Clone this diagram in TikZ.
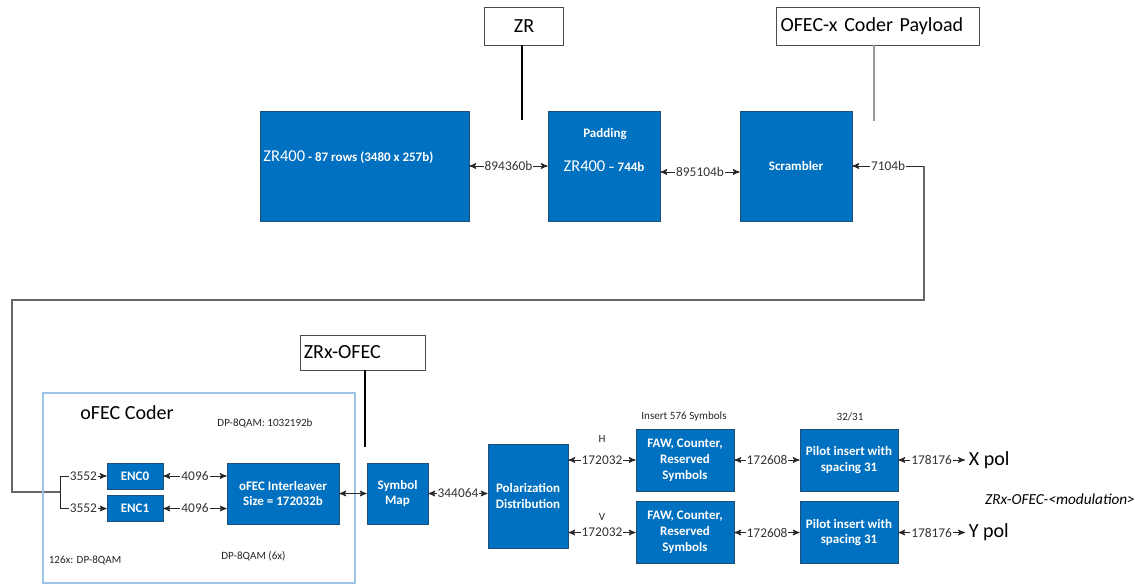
\documentclass[tikz,border=0pt]{standalone}
\usepackage{fontspec}
\setmainfont{Carlito}
\usepackage{tikz}
\usetikzlibrary{arrows}
\usetikzlibrary{positioning}
\definecolor{blockfill}{HTML}{0070C0}
\definecolor{blockedge}{HTML}{1F4E79}
\definecolor{framec}{HTML}{9DC3E6}
\newcommand{\zrboxfont}{\fontsize{7.4}{9}\selectfont\bfseries}
\newcommand{\zrtagfont}{\fontsize{11.4}{13}\selectfont}
\newcommand{\zrnumfont}{\fontsize{7.6}{9}\selectfont}
\newcommand{\zrnotefont}{\fontsize{6.3}{7.5}\selectfont}
\newcommand{\zrbig}{\fontsize{9.4}{11}\selectfont\mdseries}
\newcommand{\zrmodfont}{\fontsize{8.7}{10}\selectfont\itshape}

\begin{document}
\begin{tikzpicture}[
    x=0.02cm, y=-0.02cm,
    block/.style={draw=blockedge, fill=blockfill, text=white, font=\zrboxfont, align=center, inner sep=1pt},
    tag/.style={draw=black!70, fill=white, font=\zrtagfont, minimum height=0.76cm, inner sep=2pt},
    num/.style={fill=white, font=\zrnumfont, text=black!80, inner sep=0.6pt},
    note/.style={font=\zrnotefont, text=black!85},
    arrow/.style={>=stealth', line width=0.5pt, black!85},
    bidir/.style={arrow, <->},
    pre/.style={arrow, <-},
    post/.style={arrow, ->},
    wire/.style={line width=0.6pt, black!60}
  ]
  \useasboundingbox (0,0) rectangle (1148,585);

  \node[tag, minimum width=1.58cm] (zrtag) at (524,26) {ZR};
  \node[tag, minimum width=4.06cm, text width=3.9cm, align=left] (payloadtag) at (878,26) {OFEC-x Coder Payload};
  \coordinate (zrend) at (522,120);
  \coordinate (payloadend) at (874,121);
  \draw[line width=0.6pt] (zrtag.south -| zrend) -- (zrend);
  \draw[line width=0.8pt, black!40] (payloadtag.south -| payloadend) -- (payloadend);

  \node[block, minimum width=4.18cm, minimum height=2.2cm] (zrrows) at (364.5,166) {};
  \node[anchor=west, text=white, font=\zrboxfont, inner sep=0] (zrrowstxt) at (263,157) {{\zrbig ZR400} - 87 rows (3480 x 257b)};
  \node[block, minimum width=2.24cm, minimum height=2.2cm] (pad) at (604,166) {{\zrbig ZR400} -- 744b};
  \node[text=white, font=\zrboxfont] (padtxt) at (605,134) {Padding};
  \node[block, minimum width=2.24cm, minimum height=2.2cm] (scr) at (796,166) {Scrambler};
  \draw[bidir] (zrrows.east) -- node[num]{894360b} (pad.west);
  \draw[bidir] ([yshift=-0.12cm]pad.east) -- node[num]{895104b} ([yshift=-0.12cm]scr.west);

  \coordinate (fbtop) at (924,166);
  \coordinate (fbleft) at (12,300);
  \coordinate (split) at (60,492);
  \draw[pre] (scr.east) -- node[num]{7104b} (fbtop);
  \draw[wire] (fbtop) |- (fbleft) |- (split);

  \node[draw=framec, line width=0.8pt, minimum width=6.24cm, minimum height=3.8cm] (coder) at (199,488) {};
  \node[font=\zrtagfont] (codertitle) at (127,413) {oFEC Coder};
  \node[note] (coderbits) at (265,423) {DP-8QAM: 1032192b};
  \node[note] (codercount) at (85,560) {126x: DP-8QAM};
  \node[note] (coderintl) at (253.5,556) {DP-8QAM (6x)};

  \node[block, minimum width=1.12cm, minimum height=0.52cm] (enc0) at (135,476) {ENC0};
  \node[block, minimum width=1.12cm, minimum height=0.52cm] (enc1) at (135,508.5) {ENC1};
  \draw[post] (split) |- node[num, pos=0.75]{3552} (enc0.west);
  \draw[post] (split) |- node[num, pos=0.75]{3552} (enc1.west);
  \node[block, minimum width=2.24cm, minimum height=1.22cm] (intl) at (283,493.5) {oFEC Interleaver\\Size = 172032b};
  \draw[bidir] (enc0.east) -- node[num]{4096} (enc0.east -| intl.west);
  \draw[bidir] (enc1.east) -- node[num]{4096} (enc1.east -| intl.west);

  \node[tag, minimum width=2.5cm, minimum height=0.7cm, text width=2.35cm, align=left] (ofectag) at (362.5,352.5) {ZRx-OFEC};
  \coordinate (ofecend) at (365,447);
  \draw[line width=0.6pt] (ofectag.south -| ofecend) -- (ofecend);

  \node[block, minimum width=1.22cm, minimum height=1.22cm] (symmap) at (397.5,493.5) {Symbol\\Map};
  \node[block, minimum width=1.6cm, minimum height=2.08cm] (poldist) at (528,496) {Polarization\\Distribution};
  \draw[bidir] (intl.east) -- (symmap.west);
  \draw[bidir] (symmap.east) -- node[num]{344064} (symmap.east -| poldist.west);

  \node[block, minimum width=1.96cm, minimum height=1.24cm] (fawh) at (685,460) {FAW, Counter,\\Reserved\\Symbols};
  \node[block, minimum width=1.96cm, minimum height=1.24cm] (fawv) at (685,532.5) {FAW, Counter,\\Reserved\\Symbols};
  \node[block, minimum width=1.96cm, minimum height=1.24cm] (pilh) at (849,460) {Pilot insert with\\spacing 31};
  \node[block, minimum width=1.96cm, minimum height=1.24cm] (pilv) at (849,532.5) {Pilot insert with\\spacing 31};
  \node[note] (fawnote) at (684,417) {Insert 576 Symbols};
  \node[note] (pilnote) at (850,417) {32/31};
  \node[note] (hlbl) at (602,439) {H};
  \node[note] (vlbl) at (602,517) {V};
  \draw[bidir] (fawh.west -| poldist.east) -- node[num]{172032} (fawh.west);
  \draw[bidir] (fawv.west -| poldist.east) -- node[num]{172032} (fawv.west);
  \draw[bidir] (fawh.east) -- node[num]{172608} (pilh.west);
  \draw[bidir] (fawv.east) -- node[num]{172608} (pilv.west);

  \node[font=\zrtagfont, anchor=west, inner sep=2pt] (xpol) at (965,460) {X pol};
  \node[font=\zrtagfont, anchor=west, inner sep=2pt] (ypol) at (965,532.5) {Y pol};
  \draw[bidir] (pilh.east) -- node[num]{178176} (xpol.west);
  \draw[bidir] (pilv.east) -- node[num]{178176} (ypol.west);
  \node[font=\zrmodfont] (modname) at (1060,499) {ZRx-OFEC-<modulation>};
\end{tikzpicture}
\end{document}
